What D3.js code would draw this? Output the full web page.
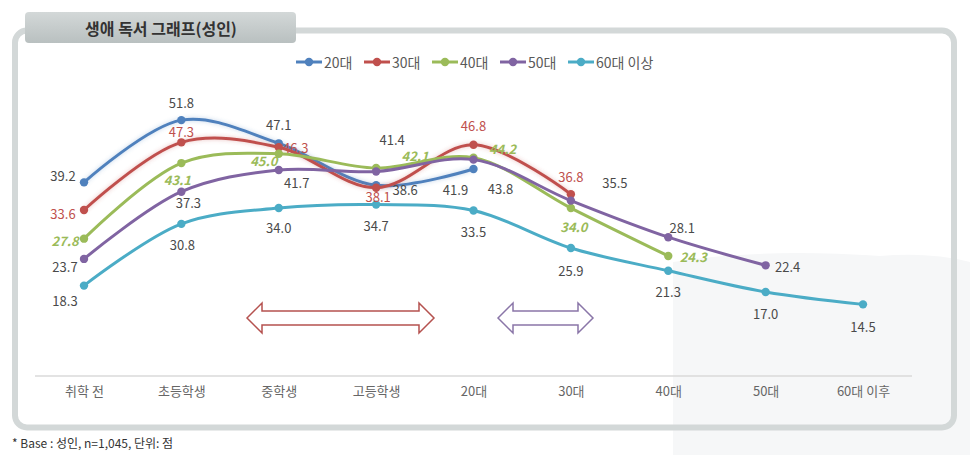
<!DOCTYPE html>
<html><head><meta charset="utf-8">
<script src="https://cdn.jsdelivr.net/npm/d3@7"></script>
<style>
html,body{margin:0;padding:0;background:#fff;}
svg{display:block;font-family:"Noto Sans CJK KR","Noto Sans",sans-serif;}
</style></head>
<body><svg id="c" width="970" height="455"></svg>
<script>
// ---- data ----
const categories = ["취학 전","초등학생","중학생","고등학생","20대","30대","40대","50대","60대 이후"];
const seriesNames = ["20대","30대","40대","50대","60대 이상"];
const s20 = [39.2, 51.8, 47.1, 38.6, 41.9];
const s30 = [33.6, 47.3, 46.3, 38.1, 46.8, 36.8];
const s40 = [27.8, 43.1, 45.0, 42.1, 44.2, 34.0, 24.3];
const s50 = [23.7, 37.3, 41.7, 41.4, 43.8, 35.5, 28.1, 22.4];
const s60 = [18.3, 30.8, 34.0, 34.7, 33.5, 25.9, 21.3, 17.0, 14.5];
const title = "생애 독서 그래프(성인)";
const footnote = "* Base : 성인, n=1,045, 단위: 점";

// ---- styles / label placement ----
const colors = ["#4f81bd","#c0504d","#9bbb59","#8064a2","#4bacc6"];
const labelColors = ["#4a4a4a","#c0504d","#9bbb59","#4a4a4a","#4a4a4a"];
const labelOffsets = [
  [[-21,-7],[0,-18],[0,-19],[29,4],[-18,20]],
  [[-21,3],[0,-11],[17,0],[2,9],[0,-19],[0,-18]],
  [[-19,2],[-4,16],[-15,7],[39,-13],[29,-9],[3,18],[25,1]],
  [[-19,8],[7,11],[18,12],[16,-32],[27,29],[44,-18],[14,-10],[22,1]],
  [[-19,15],[1,21],[0,19],[0,21],[0,21],[0,22],[0,21],[0,21],[0,22]]
];
const allSeries = [s20,s30,s40,s50,s60];

const svg = d3.select("#c");
const defs = svg.append("defs");
const g1 = defs.append("linearGradient").attr("id","tab").attr("x1",0).attr("y1",0).attr("x2",0).attr("y2",1);
g1.append("stop").attr("offset","0%").attr("stop-color","#d3d8d8");
g1.append("stop").attr("offset","100%").attr("stop-color","#b9c0c0");
const glow = defs.append("filter").attr("id","glow").attr("x","-10%").attr("y","-30%").attr("width","120%").attr("height","160%");
glow.append("feGaussianBlur").attr("in","SourceGraphic").attr("stdDeviation",2).attr("result","b");
glow.append("feColorMatrix").attr("in","b").attr("type","matrix")
  .attr("values","1 0 0 0 0  0 1 0 0 0  0 0 1 0 0  0 0 0 0.35 0").attr("result","b2");
const fm = glow.append("feMerge");
fm.append("feMergeNode").attr("in","b2");
fm.append("feMergeNode").attr("in","SourceGraphic");

// faint background shape lower right
svg.append("path")
  .attr("d","M673,262 Q760,248 880,256 Q930,252 970,262 L970,455 L673,455 Z")
  .attr("fill","#f6f7f8");

// frame
svg.append("rect").attr("x",15).attr("y",30.5).attr("width",939).attr("height",397)
  .attr("rx",12).attr("fill","none").attr("stroke","#d3d8d8").attr("stroke-width",6);

// title tab
svg.append("rect").attr("x",25).attr("y",12).attr("width",271).attr("height",31).attr("rx",4)
  .attr("fill","url(#tab)");
svg.append("text").attr("x",161).attr("y",28).attr("text-anchor","middle").attr("dominant-baseline","central")
  .attr("font-size",16).attr("font-weight",700).attr("fill","#333").text(title);

// scales
const x = d3.scalePoint().domain(categories).range([84,863]);
const y = d3.scaleLinear().domain([0,60]).range([376,376-60*4.94]);

// axis line + labels
svg.append("line").attr("x1",35).attr("x2",912).attr("y1",376).attr("y2",376)
  .attr("stroke","#dadada").attr("stroke-width",1.5);
const ax = svg.append("g").attr("transform","translate(0,388)")
  .call(d3.axisBottom(x).tickSize(0).tickPadding(0));
ax.select(".domain").remove();
ax.selectAll("text").attr("font-size",13).attr("fill","#666")
  .attr("font-family",'"Noto Sans CJK KR",sans-serif').attr("dy","0.6em");

// arrows
function dblArrow(x0,x1,cy,headLen,halfH,halfS,color){
  const p = [
    [x0,cy],[x0+headLen,cy-halfH],[x0+headLen,cy-halfS],[x1-headLen,cy-halfS],[x1-headLen,cy-halfH],
    [x1,cy],[x1-headLen,cy+halfH],[x1-headLen,cy+halfS],[x0+headLen,cy+halfS],[x0+headLen,cy+halfH]
  ];
  svg.append("path").attr("d","M"+p.map(d=>d.join(",")).join("L")+"Z")
    .attr("fill","#fff").attr("stroke",color).attr("stroke-width",1.5);
}
dblArrow(247,434,318,15,15,7,"#b5524f");
dblArrow(498,593,318,15,15,7,"#8a76a8");

// lines
const line = d3.line().x((d,i)=>x(categories[i])).y(d=>y(d)).curve(d3.curveCatmullRom.alpha(0.5));
allSeries.forEach((vals,si)=>{
  const gS = svg.append("g");
  gS.append("path").datum(vals).attr("d",line).attr("fill","none")
    .attr("stroke",colors[si]).attr("stroke-width",3).attr("stroke-linecap","round")
    .attr("filter", si<2 ? "url(#glow)" : null);
  gS.selectAll("circle").data(vals).join("circle")
    .attr("cx",(d,i)=>x(categories[i])).attr("cy",d=>y(d)).attr("r",4.2).attr("fill",colors[si]);
});
// labels
allSeries.forEach((vals,si)=>{
  svg.append("g").selectAll("text").data(vals).join("text")
    .attr("x",(d,i)=>x(categories[i])+labelOffsets[si][i][0])
    .attr("y",(d,i)=>y(d)+labelOffsets[si][i][1])
    .attr("text-anchor","middle").attr("dominant-baseline","central")
    .attr("font-size",13).attr("fill",labelColors[si])
    .attr("font-style", si===2 ? "italic" : null)
    .attr("font-weight", si===2 ? 700 : 400)
    .text(d=>d.toFixed(1));
});

// legend
const leg = svg.append("g");
seriesNames.forEach((n,i)=>{
  const lx = 296 + i*68;
  leg.append("line").attr("x1",lx).attr("x2",lx+26).attr("y1",62).attr("y2",62)
    .attr("stroke",colors[i]).attr("stroke-width",3);
  leg.append("circle").attr("cx",lx+13).attr("cy",62).attr("r",4.2).attr("fill",colors[i]);
  leg.append("text").attr("x",lx+28).attr("y",62).attr("dominant-baseline","central")
    .attr("font-size",14).attr("fill","#595959").text(n);
});

// footnote
svg.append("text").attr("x",12).attr("y",442).attr("dominant-baseline","central")
  .attr("font-size",12).attr("fill","#333").text(footnote);
</script></body></html>
